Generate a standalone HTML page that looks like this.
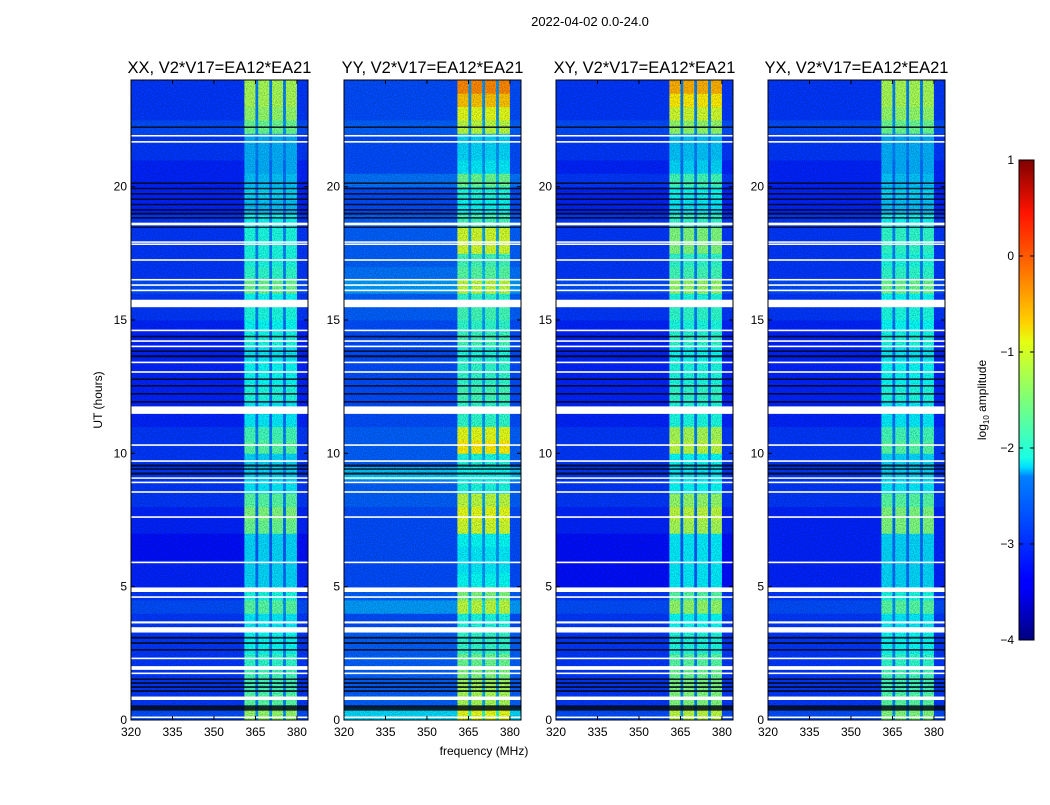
<!DOCTYPE html>
<html><head><meta charset="utf-8">
<style>
html,body{margin:0;padding:0;background:#fff;}
svg text{font-family:"Liberation Sans",sans-serif;}
</style></head>
<body>
<svg id="fig" width="1050" height="800" viewBox="0 0 1050 800" xmlns="http://www.w3.org/2000/svg">
<defs>
<filter id="grain" x="0" y="0" width="100%" height="100%">
<feTurbulence type="fractalNoise" baseFrequency="0.9" numOctaves="1" seed="3" result="n"/>
<feColorMatrix type="matrix" values="0 0 0 0 0  0 0 0 0 0  0 0 0 0 0  0 0 0 1.8 -0.7"/>
</filter>
<linearGradient id="jet" x1="0" y1="1" x2="0" y2="0">
<stop offset="0" stop-color="#000080"/><stop offset="0.11" stop-color="#0000ff"/>
<stop offset="0.125" stop-color="#0000ff"/><stop offset="0.34" stop-color="#0080ff"/>
<stop offset="0.36" stop-color="#00ddff"/><stop offset="0.38" stop-color="#1affe4"/>
<stop offset="0.5" stop-color="#7cff79"/><stop offset="0.62" stop-color="#e4ff13"/>
<stop offset="0.66" stop-color="#ffd200"/><stop offset="0.8" stop-color="#ff5a00"/>
<stop offset="0.89" stop-color="#ff1300"/><stop offset="1" stop-color="#800000"/>
</linearGradient>
</defs>
<text x="590" y="26" font-size="13" text-anchor="middle">2022-04-02 0.0-24.0</text>
<g id="panels"></g>
<text x="484" y="755" font-size="12" text-anchor="middle">frequency (MHz)</text>
<text transform="translate(102,400) rotate(-90)" font-size="12" text-anchor="middle">UT (hours)</text>
<g id="cbar"></g>
</svg>
<script>
const SVGNS="http://www.w3.org/2000/svg";
// ---- data ----
const panelTitles=["XX, V2*V17=EA12*EA21","YY, V2*V17=EA12*EA21","XY, V2*V17=EA12*EA21","YX, V2*V17=EA12*EA21"];
const xTicks=[320,335,350,365,380];
const yTicks=[0,5,10,15,20];
const cbTicks=[1,0,-1,-2,-3,-4];
const freqStart=320, freqEnd=384, freqStep=1;
const hourStep=0.5;
const subBands=[[361,365],[366,370],[371,375],[376,380]];
// background level per half-hour row (log10 amplitude), index 0 = 0.0-0.5h
const bgXX=[-3.0,-3.1,-3.1,-3.1,-3.1,-3.1,-3.1,-3.1,-3.0,-3.1,-3.2,-3.2,-3.3,-3.3,-3.2,-3.2,-3.1,-3.1,-3.1,-3.1,-3.1,-3.1,-3.2,-3.2,-3.2,-3.2,-3.2,-3.2,-3.2,-3.2,-3.1,-3.1,-3.0,-3.1,-3.1,-3.1,-3.1,-3.1,-3.2,-3.2,-3.2,-3.2,-3.1,-3.1,-3.0,-3.1,-3.1,-3.1];
const bgYY=[-2.3,-2.9,-2.9,-2.9,-2.9,-2.9,-2.9,-3.0,-2.6,-2.9,-3.0,-3.0,-3.0,-3.0,-3.0,-3.0,-2.9,-2.9,-2.4,-2.9,-2.9,-2.9,-3.0,-3.0,-3.0,-3.0,-3.0,-3.0,-3.0,-3.0,-2.9,-2.9,-2.6,-2.8,-2.9,-2.9,-2.9,-2.9,-3.0,-3.0,-2.8,-3.0,-3.0,-3.0,-2.9,-3.0,-3.0,-3.0];
const bgXY=[-3.0,-3.1,-3.1,-3.1,-3.1,-3.1,-3.1,-3.1,-3.0,-3.1,-3.3,-3.3,-3.3,-3.3,-3.2,-3.2,-3.1,-3.1,-3.1,-3.1,-3.1,-3.1,-3.2,-3.2,-3.2,-3.2,-3.2,-3.2,-3.2,-3.2,-3.1,-3.1,-3.0,-3.1,-3.1,-3.1,-3.1,-3.1,-3.2,-3.2,-3.1,-3.2,-3.1,-3.1,-3.0,-3.1,-3.1,-3.1];
const bgYX=[-3.0,-3.1,-3.1,-3.1,-3.1,-3.1,-3.1,-3.1,-3.0,-3.1,-3.2,-3.2,-3.2,-3.2,-3.2,-3.2,-3.1,-3.1,-3.1,-3.1,-3.1,-3.1,-3.2,-3.2,-3.2,-3.2,-3.2,-3.2,-3.2,-3.2,-3.1,-3.1,-3.0,-3.1,-3.1,-3.1,-3.1,-3.1,-3.2,-3.2,-3.2,-3.2,-3.1,-3.1,-3.0,-3.1,-3.1,-3.1];
// emission band level per half-hour row
const bandXX=[-1.4,-1.7,-1.8,-1.8,-1.9,-2.1,-2.1,-2.2,-1.7,-2.0,-2.3,-2.3,-2.3,-2.3,-1.6,-1.5,-1.7,-2.2,-2.3,-2.3,-1.7,-1.8,-2.2,-2.2,-2.0,-2.1,-2.1,-2.2,-2.0,-2.1,-2.0,-2.1,-1.6,-1.9,-2.0,-2.0,-2.0,-2.1,-2.4,-2.3,-2.4,-2.5,-2.5,-2.5,-1.6,-1.4,-1.3,-1.3];
const bandYY=[-1.0,-1.3,-1.3,-1.5,-1.6,-1.9,-1.9,-2.0,-1.2,-1.5,-2.1,-2.2,-2.2,-2.1,-1.1,-1.0,-1.2,-2.0,-2.1,-2.0,-0.8,-1.0,-1.9,-1.9,-1.8,-1.9,-1.9,-2.0,-1.8,-1.9,-1.8,-1.9,-1.2,-1.7,-1.8,-1.1,-1.1,-1.8,-2.1,-2.0,-1.6,-2.2,-2.3,-2.3,-1.2,-1.0,-0.6,-0.3];
const bandXY=[-1.2,-1.5,-1.5,-1.6,-1.7,-2.0,-2.0,-2.1,-1.4,-1.7,-2.2,-2.2,-2.2,-2.2,-1.3,-1.2,-1.4,-2.1,-2.2,-2.1,-1.2,-1.3,-2.0,-2.0,-1.9,-2.0,-2.0,-2.1,-1.9,-2.0,-1.9,-2.0,-1.4,-1.8,-1.9,-1.5,-1.5,-1.9,-2.2,-2.1,-1.8,-2.3,-2.4,-2.4,-1.4,-1.1,-0.8,-0.5];
const bandYX=[-1.5,-1.7,-1.8,-1.8,-1.9,-2.1,-2.1,-2.2,-1.7,-2.0,-2.3,-2.3,-2.3,-2.3,-1.5,-1.5,-1.7,-2.2,-2.3,-2.3,-1.7,-1.8,-2.2,-2.2,-2.0,-2.1,-2.1,-2.2,-2.0,-2.1,-2.0,-2.1,-1.6,-1.9,-2.0,-1.9,-1.9,-2.1,-2.4,-2.3,-2.4,-2.5,-2.5,-2.5,-1.6,-1.4,-1.3,-1.3];
// flagged (white) time intervals, hours
const flagStart=[0.07,0.75,1.72,1.88,2.28,3.28,3.62,4.58,4.8,5.88,7.58,8.52,8.88,9.05,9.68,10.28,11.48,13.02,13.38,13.98,14.18,14.58,15.48,16.08,16.28,16.48,17.22,17.83,17.9,18.55,21.65,21.88];
const flagEnd  =[0.13,0.88,1.78,2.02,2.34,3.48,3.7,4.64,4.97,5.94,7.64,8.58,8.94,9.1,9.74,10.34,11.76,13.08,13.44,14.04,14.24,14.64,15.76,16.14,16.34,16.54,17.28,17.87,17.95,18.65,21.71,21.94];
// dark (low amplitude) time intervals, hours
const darkStart=[0.35,1.05,1.2,1.35,1.5,2.6,2.85,3.05,9.2,9.38,9.5,11.9,12.2,12.5,12.75,13.6,13.8,14.35,18.45,18.8,18.95,19.1,19.3,19.5,19.7,19.9,20.1,22.2];
const darkEnd  =[0.55,1.12,1.27,1.42,1.56,2.66,2.92,3.12,9.28,9.44,9.58,11.96,12.26,12.56,12.81,13.68,13.86,14.41,18.5,18.86,19.02,19.16,19.36,19.56,19.76,19.96,20.16,22.26];

const bgs=[bgXX,bgYY,bgXY,bgYX], bands=[bandXX,bandYY,bandXY,bandYX];
const panelX=[131,344,556,768], panelW=177, plotTop=80, plotBottom=720;
const vmin=-4,vmax=1;

function jet(v){
  let t=(v-vmin)/(vmax-vmin); t=Math.max(0,Math.min(1,t));
  const c=x=>Math.round(255*Math.max(0,Math.min(1,x)));
  return `rgb(${c(1.5-Math.abs(4*t-3))},${c(1.5-Math.abs(4*t-2))},${c(1.5-Math.abs(4*t-1))})`;
}
function mk(tag,attrs,parent){const e=document.createElementNS(SVGNS,tag);for(const k in attrs)e.setAttribute(k,attrs[k]);parent.appendChild(e);return e;}

try{
const panelsG=document.getElementById('panels');
panelTitles.forEach((title,p)=>{
  const x0=panelX[p];
  const xs=f=>x0+(f-freqStart)/(freqEnd-freqStart)*panelW;
  const ys=h=>plotBottom-h/24*(plotBottom-plotTop);
  const g=mk('g',{},panelsG);
  
  
  const hm=mk('g',{},g);
  
  
  const bg=bgs[p], bd=bands[p];
  for(let r=0;r<bg.length;r++){
    const h0=r*hourStep,h1=h0+hourStep;
    for(let f=freqStart;f<freqEnd;f+=freqStep){
      let v=bg[r];
      const inB=subBands.some(b=>f>=b[0]&&f<b[1]);
      if(inB) v=bd[r];
      else if(f>=361&&f<380) v=bg[r]+0.35;
      const c=mk('rect',{x:xs(f),y:ys(h1),width:xs(f+freqStep)-xs(f)+0.4,height:ys(h0)-ys(h1)+0.4,fill:jet(v)},hm);
      
      
    }
  }
  mk('rect',{x:x0,y:plotTop,width:panelW,height:plotBottom-plotTop,fill:'#000',filter:'url(#grain)',opacity:0.4},g);
  for(let i=0;i<darkStart.length;i++){
    const d=mk('rect',{x:x0,y:ys(darkEnd[i]),width:panelW,height:Math.max(1,ys(darkStart[i])-ys(darkEnd[i])),fill:'#000814',opacity:0.85},g);
    
    
  }
  for(let i=0;i<flagStart.length;i++){
    const d=mk('rect',{x:x0,y:ys(flagEnd[i]),width:panelW,height:Math.max(1.5,ys(flagStart[i])-ys(flagEnd[i])),fill:'#fff'},g);
    
    
  }
  mk('rect',{x:x0,y:plotTop,width:panelW,height:plotBottom-plotTop,fill:'none',stroke:'#000','stroke-width':1},g);
  xTicks.forEach(t=>{
    const x=xs(t);
    mk('line',{x1:x,x2:x,y1:plotBottom,y2:plotBottom-4,stroke:'#000'},g);
    mk('line',{x1:x,x2:x,y1:plotTop,y2:plotTop+4,stroke:'#000'},g);
    const tx=mk('text',{x:x,y:plotBottom+16,'font-size':12,'text-anchor':'middle'},g);
    tx.textContent=t;
    
    
  });
  yTicks.forEach(t=>{
    const y=ys(t);
    mk('line',{x1:x0,x2:x0+4,y1:y,y2:y,stroke:'#000'},g);
    mk('line',{x1:x0+panelW,x2:x0+panelW-4,y1:y,y2:y,stroke:'#000'},g);
    const tx=mk('text',{x:x0-4,y:y+4,'font-size':12,'text-anchor':'end'},g);
    tx.textContent=t;
    
    
  });
  const tt=mk('text',{x:x0+panelW/2,y:plotTop-7,'font-size':16.5,'text-anchor':'middle'},g);
  tt.textContent=title;
  
  
});

// colorbar
const cb=document.getElementById('cbar');
const cbx=1019,cbw=15,cbt=160,cbb=640;
const cy=v=>cbb-(v-vmin)/(vmax-vmin)*(cbb-cbt);
mk('rect',{x:cbx,y:cbt,width:cbw,height:cbb-cbt,fill:'url(#jet)',stroke:'#000','stroke-width':1},cb);
cbTicks.forEach(t=>{
  const y=cy(t);
  mk('line',{x1:cbx,x2:cbx+4,y1:y,y2:y,stroke:'#000'},cb);
  mk('line',{x1:cbx+cbw,x2:cbx+cbw-4,y1:y,y2:y,stroke:'#000'},cb);
  const tx=mk('text',{x:cbx-5,y:y+4,'font-size':12,'text-anchor':'end'},cb);
  tx.textContent=t<0?'\u2212'+Math.abs(t):String(t);
  
  
});
const cl=mk('text',{transform:'translate(986,400) rotate(-90)','font-size':12,'text-anchor':'middle'},cb);


const s1=mk('tspan',{},cl); s1.textContent='log';
const s2=mk('tspan',{'font-size':8,dy:3},cl); s2.textContent='10';
const s3=mk('tspan',{dy:-3},cl); s3.textContent=' amplitude';
}catch(e){console.error(e);}
</script>
</body></html>
